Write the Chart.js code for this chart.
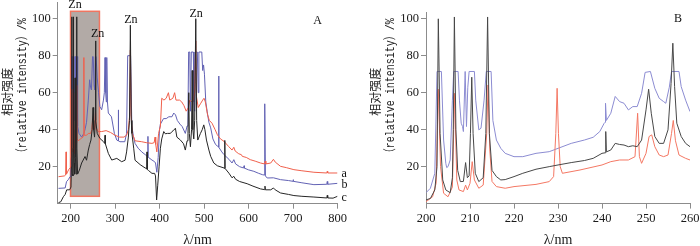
<!DOCTYPE html>
<html><head><meta charset="utf-8">
<script src="https://cdn.jsdelivr.net/npm/chart.js@4.4.0/dist/chart.umd.min.js"></script>
<style>
html,body{margin:0;padding:0;background:#fff;}
#wrap{position:relative;width:700px;height:246px;overflow:hidden;background:#fff;}
#wa{position:absolute;left:0;top:0;width:350px;height:246px;}
#wb{position:absolute;left:350px;top:0;width:350px;height:246px;}
</style></head><body>
<div id="wrap"><div id="wa"><canvas id="ca" width="350" height="246"></canvas></div><div id="wb"><canvas id="cb" width="350" height="246"></canvas></div></div>
<script>
// ---------- tick labels ----------
const yTicks = [20, 40, 60, 80, 100];
const xTicksA = [200, 300, 400, 500, 600, 700, 800];
const xTicksB = [200, 210, 220, 230, 240, 250, 260];

// ---------- Panel A spectra: [wavelength nm, relative intensity %] ----------
const specA_a = [[173,14.6],[186,15],[189,15.5],[190,28],[191,16],[196,18.5],[200,19.5],[201.5,25],[202.8,62],[203.5,30],[205,28],[206.4,60],[207.2,30],[209,27],[210.4,40],[211,30],[213.5,33],[214.1,64],[214.8,35],[218,34],[222,35],[228,36],[229.3,37],[230,79],[230.7,37],[236,37],[240,38],[245,38],[248,40],[249.5,45],[251,40],[254,40],[256.2,50],[258,41],[262,39],[270,39],[280,39.5],[290,38.5],[300,37],[310,36],[320,36],[326,37],[330,40],[333,48],[334.5,83],[336,48],[339,38],[345,34],[360,33.5],[370,33],[383,32.6],[388,33],[390,36],[391.5,32],[394,28],[398,38],[402,42],[405,57],[410,56],[415,57],[420,60],[423,56],[430,57],[434,60],[437,56],[445,56],[450,55],[455,53],[460,50],[465,52],[468,56],[472,55],[476,56],[479,60],[481.5,88],[483,58],[487,52],[492,54],[497,56],[500,57],[503,55],[508,48],[512,45],[518,43.5],[525,40],[530,37.3],[537,35],[545,33.7],[555,31],[563,29],[567,30.5],[570,28.5],[578,27],[584,26.5],[586,25.6],[595,25],[604,23.8],[615,23],[627,22],[636,21.5],[637.5,23],[639,21.5],[650,22],[656,24],[660,22.5],[672,20.2],[685,19.5],[702,18.4],[720,17.8],[747,17],[776,16.6],[777,17.5],[778,16.6],[800,16.6]];
const specA_b = [[173,8.3],[188,8.5],[191,11.9],[195,13],[199,14.6],[201,17],[202,25],[202.5,79.5],[203.5,79.5],[204.3,35],[205.2,32],[206,79.5],[207.3,79.5],[208.2,45],[209,79.5],[209.5,45],[210,79.5],[211.2,79.5],[212.2,42],[213.5,79.5],[214.8,79.5],[216,42],[219,38],[225,36],[230,38],[233,40.5],[236,44],[240,56],[243,67],[245,63],[247,61.5],[249.5,79.5],[251,79.5],[253,64],[254.5,61.5],[255.8,79.5],[257.5,79.5],[260,68],[263,60],[266,52.5],[270,50.8],[274,56],[276,60],[277.5,79],[279,60],[280.5,55],[281.5,79],[283,55],[285,49],[292,47],[298.6,38],[304,34.4],[307,34],[307.5,50.7],[308,34],[311,33.5],[322,33.5],[326,38],[328.5,80],[335,80],[337.8,42],[341,37],[345,32.6],[352,30],[360,28],[368,26.5],[373.6,25.4],[374,36.4],[374.4,25.2],[383,23.6],[389,22.7],[391,22],[394,17],[397,25],[400,40],[402,43],[409,46],[415,46],[421,47],[428,47],[432,49],[436,48],[440,45],[446,43],[451,41.7],[458,38],[462,42],[464,50],[465.5,82],[468,82],[469.5,50],[471.5,82],[476,82],[477.5,55],[479,50],[481,82],[485,82],[487,60],[488.5,82],[495,82],[497,72],[499,75],[501,70],[504,55],[507,50],[511,44],[515,41],[520,35],[526,32],[531,31],[532.5,31],[533,69],[533.5,30.5],[540,28],[545,26.5],[556,24],[563,22],[567,23.8],[571,21.5],[580,20],[589,19.3],[590,20.5],[591,19.2],[600,18.3],[612,17.5],[622,16.5],[631,15.7],[635,15.5],[636.5,54],[638,15],[642,13.9],[656,14],[672,13],[690,12.5],[700,12.1],[700.5,13],[701,12.1],[720,11.3],[747,10.3],[776,10.5],[777,12],[778,10.5],[800,11]];
const specA_c = [[173,0.6],[178,1],[184,3.8],[188,5],[191.4,7.5],[198,7.5],[201,9],[202,20],[202.8,101],[203.3,30],[204,16],[205.5,15],[206,30],[206.4,101],[206.9,30],[208,16],[209,22],[209.5,16],[210.4,68],[211,25],[212.5,16],[213.6,30],[214,101],[214.5,30],[216,16],[220,18.2],[225,22],[232.6,25.5],[236,23.5],[240,29],[243,32],[246,34.4],[248.5,40],[250.6,52],[252,40],[254,36],[255.5,45],[256.3,88],[257,45],[260,38],[266,35.3],[273.8,33.6],[277,32.6],[277.7,37],[278.3,32.4],[285,27.2],[292.6,23.6],[304,24.5],[315,22.7],[322.6,23.5],[326,28],[330,36],[332.5,45],[334.5,96.5],[336.5,45],[338,38],[342,30],[345,23.5],[356.6,21.1],[367.8,19.3],[371.5,19],[372,28],[372.5,18.5],[375,18],[383,16.4],[389,16.4],[391,15],[393.5,2],[396,10],[399,19.9],[402,30],[405,35],[409.5,39],[413,37.8],[418,38],[424.5,38],[428,39],[431.5,39.6],[435.7,40.8],[439,36],[447,34.4],[454,32.4],[458,29],[462,34],[464,38],[465.8,60],[467,38],[469.5,30.8],[472,40],[473.5,72],[475,40],[477,35],[479,45],[481.5,100],[483.5,45],[486,34.4],[492,38],[496,40],[499.5,42.6],[502,40],[505.5,34.4],[511,29],[515,25.6],[522,22],[530,20.5],[545,19.3],[546.5,19],[547,34.2],[547.5,19],[556,16.5],[563,14],[567,14.8],[571,13.2],[580,12],[597,10.8],[610,9.5],[627,8],[636,7.6],[637,9.5],[638,7.5],[650,7.5],[656,8.5],[660,7.5],[672,5.8],[690,5],[702,4.4],[720,4],[747,3.6],[776,3.1],[777,4.5],[778,3.1],[790,3],[800,4]];

// ---------- Panel B spectra (200-260 nm detail) ----------
const specB_black = [[200,2],[201,2.8],[202,7.4],[202.5,20],[202.8,100],[203.2,38],[203.8,12.8],[204.5,7.4],[205.5,5.9],[206,14],[206.2,40],[206.45,101],[206.8,40],[207.2,18],[207.8,11.9],[208.5,12],[209,22.2],[209.4,14],[209.8,15],[210.1,38],[210.4,68.4],[210.7,38],[211.2,16.4],[212,11.9],[213,14],[213.6,38],[214,101],[214.4,38],[215,18],[216,14.6],[217,12.8],[218,13],[220,14.6],[222,16.4],[225,18.6],[228,20],[230,20.9],[233,22.2],[236,23.3],[238,24.5],[240,27.2],[240.7,27.5],[240.85,39],[241,28],[242,29],[243,32.6],[244,32],[245,31.7],[246,30.8],[247,31.3],[248,30.8],[249,34.4],[250,50.7],[250.6,61.9],[251.2,48.9],[252,36.3],[253,32.6],[254,32.6],[255,39.9],[255.7,65],[256.1,86.8],[256.5,63.3],[257,43.5],[258,36.3],[259,32.6],[260,30.8]];
const specB_red = [[200,1],[201.5,3.7],[202.3,11],[202.8,61.9],[203.3,20],[204,5.6],[205,3.7],[206,9],[206.5,59.7],[207,12.8],[207.5,7.4],[208.5,6.5],[209,10],[209.4,7.4],[210,11],[210.5,22.7],[211,12.8],[212,8.3],[213,10],[213.8,38],[214.1,64.2],[214.5,29],[215,12],[216,9.2],[218,8.3],[220,9.2],[225,10.4],[228,11.9],[229,14.6],[229.5,38],[229.8,62.4],[230.1,38],[230.5,20],[231,16.4],[235,18.2],[240,20.9],[242,22.7],[244,23.6],[246,23.6],[247.5,25.4],[248.1,48.9],[248.5,25.4],[249,21.8],[250,27.2],[250.7,36.3],[251.3,37.2],[252,30.8],[253,26.3],[254,25.4],[255,26.3],[255.8,38],[256.2,45],[256.7,34],[257.5,26.3],[259,24.5],[260,23.6]];
const specB_blue = [[200,5.9],[201,8.3],[202,16.4],[202.5,71.5],[203.5,71.5],[204,34.4],[204.5,21.8],[204.7,19.5],[205,20],[205.5,23.6],[206,56],[206.3,71.5],[207.3,71.5],[207.6,56],[208,43.5],[208.3,41.7],[208.5,39],[208.9,71.5],[209.2,41.7],[209.5,63],[209.8,71.5],[211,71.5],[211.3,56],[212,39.9],[212.5,40.8],[213.2,56],[213.7,71.5],[214.8,71.5],[215.2,45],[216,34.4],[217,29.9],[218,27.2],[220,25.4],[222,25.4],[225,27.2],[228,28.1],[230,29.9],[233,32.6],[236,34.4],[238,35.9],[239.5,39],[240.5,43.5],[240.7,44],[240.8,54.3],[241,45],[242,48.9],[243,58],[244,55.2],[245,54.3],[246,50.7],[247,52.5],[248,52.5],[249,59.7],[249.8,71],[251,71.5],[252,62.4],[253,57],[254,55.2],[254.5,54.3],[255.3,63],[255.8,71.5],[257.5,71.5],[258,63.3],[259,56],[260,49.8]];

// ---------- annotations (data coordinates) ----------
const labelsA = [{t:'Zn',x:210,y:107.4},{t:'Zn',x:260.8,y:92},{t:'Zn',x:335.8,y:99.3},{t:'Zn',x:482.2,y:102.5},{t:'A',x:755.5,y:99.1}];
const curveNamesA = [{t:'a',y:16.2},{t:'b',y:10.3},{t:'c',y:3.4}];
const labelsB = [{t:'B',x:257.3,y:100}];
const zoomRegionA = [200, 265, 4, 104]; // x from, x to, y from, y to
const yTitle = ['相对强度', '（relative intensity）/%'];
const xTitle = 'λ/nm';

const toXY = arr => arr.map(p => ({x: p[0], y: p[1]}));

const annotPlugin = {
  id: 'annot',
  beforeDatasetsDraw(chart, args, o) {
    if (!o.rect) return;
    const xs = chart.scales.x, ys = chart.scales.y, ctx = chart.ctx;
    const x0 = xs.getPixelForValue(o.rect[0]), x1 = xs.getPixelForValue(o.rect[1]);
    const y0 = ys.getPixelForValue(o.rect[3]), y1 = ys.getPixelForValue(o.rect[2]);
    ctx.save();
    ctx.fillStyle = '#b2aaa6';
    ctx.fillRect(x0, y0, x1 - x0, y1 - y0);
    ctx.strokeStyle = '#f07560';
    ctx.lineWidth = 1.5;
    ctx.strokeRect(x0, y0, x1 - x0, y1 - y0);
    ctx.restore();
  },
  afterDraw(chart, args, o) {
    const xs = chart.scales.x, ys = chart.scales.y, ctx = chart.ctx, ca = chart.chartArea;
    ctx.save();
    ctx.fillStyle = '#111';
    ctx.font = '12px "Liberation Serif", serif';
    ctx.textAlign = 'center';
    ctx.textBaseline = 'middle';
    (o.labels || []).forEach(l => ctx.fillText(l.t, xs.getPixelForValue(l.x), ys.getPixelForValue(l.y)));
    ctx.textAlign = 'left';
    (o.names || []).forEach(l => ctx.fillText(l.t, ca.right + 4, ys.getPixelForValue(l.y)));
    // y title, two rotated lines
    ctx.fillStyle = '#222';
    ctx.textAlign = 'center';
    ctx.save();
    ctx.translate(ca.left - 50.3, 91.7);
    ctx.rotate(-Math.PI / 2);
    ctx.font = '12px "Noto Sans CJK SC", sans-serif';
    ctx.fillText(yTitle[0], 0, 0);
    ctx.restore();
    ctx.save();
    ctx.translate(ca.left - 35.3, 88.3);
    ctx.rotate(-Math.PI / 2);
    ctx.font = '13px "Liberation Mono", "Noto Sans CJK SC", monospace';
    const w = ctx.measureText(yTitle[1]).width;
    ctx.scale(140 / w, 1);
    ctx.fillText(yTitle[1], 0, 0);
    ctx.restore();
    ctx.restore();
  }
};

function makeChart(id, sets, xmin, xmax, xticks, ymax, pad, yw, xh, annot) {
  const axisColor = '#8c8c8c';
  const tickFont = {family: '"Liberation Serif", serif', size: 12.5};
  return new Chart(document.getElementById(id), {
    type: 'line',
    data: {datasets: sets.map(s => ({data: toXY(s.d), borderColor: s.c, borderWidth: 1, pointRadius: 0, tension: 0, fill: false}))},
    options: {
      responsive: false, animation: false, devicePixelRatio: 1,
      layout: {padding: pad},
      plugins: {legend: {display: false}, tooltip: {enabled: false}, annot: annot},
      scales: {
        x: {
          type: 'linear', min: xmin, max: xmax,
          afterBuildTicks: s => { s.ticks = xticks.map(v => ({value: v})); },
          afterFit: s => { s.height = xh; s.paddingLeft = 0; s.paddingRight = 0; },
          grid: {drawOnChartArea: false, drawTicks: true, tickLength: 5, color: axisColor},
          border: {color: axisColor, width: 1},
          ticks: {font: tickFont, color: '#1a1a1a', padding: 3, maxRotation: 0},
          title: {display: true, text: xTitle, font: {family: '"Liberation Serif", serif', size: 14, lineHeight: 0.85}, color: '#1a1a1a', padding: 0}
        },
        y: {
          type: 'linear', min: 0, max: ymax,
          afterBuildTicks: s => { s.ticks = yTicks.map(v => ({value: v})); },
          afterFit: s => { s.width = yw; s.paddingTop = 0; s.paddingBottom = 0; },
          grid: {drawOnChartArea: false, drawTicks: true, tickLength: 5, color: axisColor},
          border: {color: axisColor, width: 1},
          ticks: {font: tickFont, color: '#1a1a1a', padding: 2}
        }
      }
    },
    plugins: [annotPlugin]
  });
}

makeChart('ca',
  [{d: specA_c, c: '#262626'}, {d: specA_a, c: '#f0604c'}, {d: specA_b, c: '#6262b4'}],
  171.2, 800, xTicksA, 109, {left: 0, right: 12.5, top: 2.05, bottom: 0}, 57.7, 42.3,
  {rect: zoomRegionA, labels: labelsA, names: curveNamesA});

makeChart('cb',
  [{d: specB_black, c: '#484848'}, {d: specB_red, c: '#f47864'}, {d: specB_blue, c: '#8c8cd2'}],
  200, 260, xTicksB, 103.5, {left: 19.5, right: 10, top: 12.35, bottom: 0}, 56.5, 42.4,
  {labels: labelsB});
</script>
</body></html>
